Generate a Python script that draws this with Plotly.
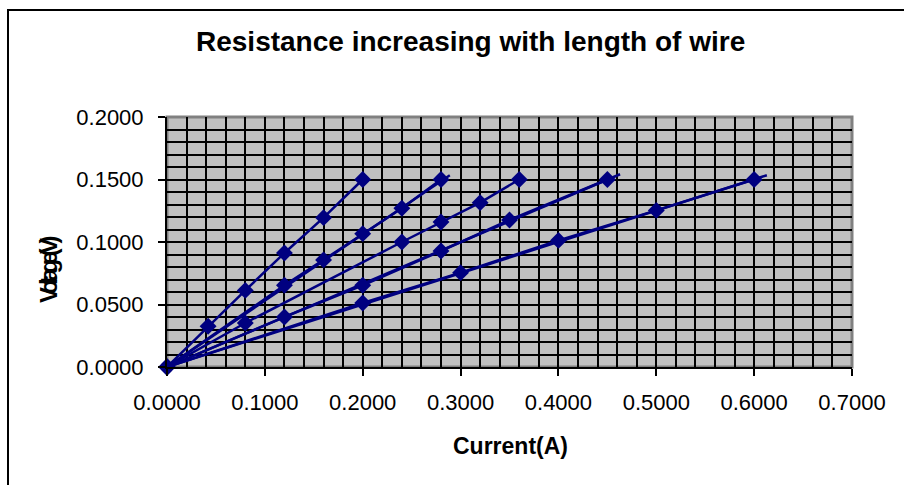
import plotly.graph_objects as go

# ---- data ----
s1_x = [0, 0.042, 0.08, 0.12, 0.16, 0.20]
s1_y = [0, 0.0326, 0.0613, 0.0912, 0.1195, 0.150]
s2_x = [0, 0.12, 0.16, 0.20, 0.24, 0.28]
s2_y = [0, 0.0654, 0.0857, 0.1067, 0.1270, 0.150]
s3_x = [0, 0.08, 0.24, 0.28, 0.32, 0.36]
s3_y = [0, 0.0352, 0.1000, 0.1160, 0.1315, 0.150]
s4_x = [0, 0.12, 0.20, 0.28, 0.35, 0.45]
s4_y = [0, 0.0400, 0.0654, 0.0928, 0.1176, 0.150]
s5_x = [0, 0.20, 0.30, 0.40, 0.50, 0.60]
s5_y = [0, 0.0512, 0.0755, 0.1013, 0.1253, 0.150]

# trend-line end points (lines from origin, slightly past last point)
trend_x = [0.289, 0.463, 0.613]
trend_y = [0.1534, 0.1542, 0.1534]

x_ticks = [0.0, 0.1, 0.2, 0.3, 0.4, 0.5, 0.6, 0.7]
y_ticks = [0.0, 0.05, 0.10, 0.15, 0.20]

title_text = "Resistance increasing with length of wire"
x_title = "Current(A)"
y_title = "Voltage(V)"

NAVY = "#000080"
FONT = "Liberation Sans, Arial, sans-serif"

fig = go.Figure()

for tx, ty in zip(trend_x, trend_y):
    fig.add_trace(go.Scatter(x=[0, tx], y=[0, ty], mode="lines",
                             line=dict(color=NAVY, width=2.5),
                             hoverinfo="skip", showlegend=False, cliponaxis=False))

for xs, ys in [(s1_x, s1_y), (s2_x, s2_y), (s3_x, s3_y), (s4_x, s4_y), (s5_x, s5_y)]:
    fig.add_trace(go.Scatter(x=xs, y=ys, mode="lines+markers",
                             line=dict(color=NAVY, width=2.5),
                             marker=dict(symbol="diamond", size=13, color=NAVY,
                                         line=dict(width=0)),
                             showlegend=False, cliponaxis=False))

axis_common = dict(
    showline=True, linecolor="black", linewidth=2,
    ticks="outside", ticklen=7, tickcolor="black", tickwidth=2,
    showgrid=True, gridcolor="black", gridwidth=2,
    zeroline=False,
    tickfont=dict(family=FONT, size=22, color="black"),
    tickformat=".4f",
)

fig.update_xaxes(range=[0, 0.7], tickvals=x_ticks,
                 minor=dict(dtick=0.02, tick0=0, showgrid=True, gridcolor="black",
                            gridwidth=2, ticks=""),
                 ticklabelstandoff=8, **axis_common)
fig.update_yaxes(range=[0, 0.2], tickvals=y_ticks,
                 minor=dict(dtick=0.01, tick0=0, showgrid=True, gridcolor="black",
                            gridwidth=2, ticks=""),
                 ticklabelstandoff=10, **axis_common)

fig.update_layout(
    width=904, height=485,
    margin=dict(l=167, r=52, t=117, b=118),
    paper_bgcolor="white", plot_bgcolor="#C0C0C0",
    font=dict(family=FONT, color="black"),
    shapes=[
        # grey frame of plot area (top / right)
        dict(type="rect", xref="paper", yref="paper", x0=0, x1=1, y0=0, y1=1,
             line=dict(color="#808080", width=3), layer="below"),
        # outer chart border
        dict(type="rect", xref="paper", yref="paper",
             x0=(8 - 167) / 685, x1=1.3, y0=-0.7, y1=(367 - 10) / 250,
             line=dict(color="black", width=2)),
    ],
    annotations=[
        dict(text="<b>" + title_text + "</b>", xref="paper", yref="paper",
             x=(470 - 167) / 685, y=(367 - 42) / 250, showarrow=False,
             xanchor="center", yanchor="middle",
             font=dict(family=FONT, size=28, color="black")),
        dict(text="<b>" + x_title + "</b>", xref="paper", yref="paper",
             x=(510 - 167) / 685, y=(367 - 446) / 250, showarrow=False,
             xanchor="center", yanchor="middle",
             font=dict(family=FONT, size=23, color="black")),
        dict(text="<b><span style='letter-spacing:-5.5px'>" + y_title + "</span></b>",
             xref="paper", yref="paper",
             x=(48 - 167) / 685, y=(367 - 270) / 250, showarrow=False,
             textangle=-90, xanchor="center", yanchor="middle",
             font=dict(family=FONT, size=24, color="black")),
    ],
)

fig.write_html("out.html")
